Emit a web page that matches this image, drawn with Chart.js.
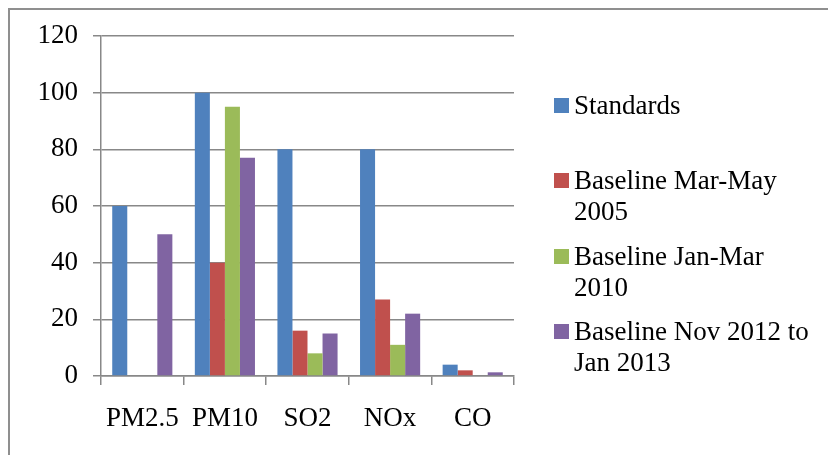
<!DOCTYPE html>
<html>
<head>
<meta charset="utf-8">
<script src="https://cdn.jsdelivr.net/npm/chart.js@4/dist/chart.umd.min.js"></script>
<style>
  html, body { margin: 0; padding: 0; background: #fff; }
  #wrap { position: relative; width: 828px; height: 455px; overflow: hidden; background: #fff; }
  #frame { position: absolute; left: 8px; top: 8px; width: 900px; height: 520px;
           border-left: 2px solid #8f8f8f; border-top: 2px solid #8f8f8f; box-sizing: border-box; }
  #c { position: absolute; left: 0; top: 0; }
  #legend { position: absolute; left: 554px; top: 90px; width: 274px;
            font-family: "Liberation Serif", "Times New Roman", serif; font-size: 27px;
            line-height: 31px; color: #000; }
  .item { position: relative; height: 75.3px; }
  .swatch { position: absolute; left: 0; top: 8px; width: 15px; height: 15px; }
  .text { position: absolute; left: 20px; top: 0; width: 250px; }
</style>
</head>
<body>
<div id="wrap">
  <div id="frame"></div>
  <canvas id="c" width="828" height="455"></canvas>
  <div id="legend"></div>
</div>
<script>
// Pollutants on the category axis
const pollutants = ['PM2.5', 'PM10', 'SO2', 'NOx', 'CO'];

// Concentration per pollutant for each series
const standards      = [60, 100, 80, 80, 4];
const baseline2005   = [null, 40, 16, 27, 2];
const baseline2010   = [null, 95, 8, 11, null];
const baseline2012   = [50, 77, 15, 22, 1.3];

const seriesNames = [
  'Standards',
  'Baseline Mar-May 2005',
  'Baseline Jan-Mar 2010',
  'Baseline Nov 2012 to Jan 2013'
];
const seriesColors = ['#4F81BD', '#C0504D', '#9BBB59', '#8064A2'];

// Value axis range
const yMin = 0, yMax = 120, yStep = 20;

const seriesValues = [standards, baseline2005, baseline2010, baseline2012];
const gridColor = '#888888';
const serif = '"Liberation Serif", "Times New Roman", serif';

new Chart(document.getElementById('c'), {
  type: 'bar',
  data: {
    labels: pollutants,
    datasets: seriesNames.map((name, i) => ({
      label: name,
      data: seriesValues[i],
      backgroundColor: seriesColors[i],
      borderWidth: 0,
      categoryPercentage: 0.728,
      barPercentage: 1.0
    }))
  },
  options: {
    responsive: false,
    animation: false,
    devicePixelRatio: 1,
    layout: { padding: { left: 0, top: 36, right: 314, bottom: 0 } },
    plugins: {
      legend: { display: false },
      tooltip: { enabled: false }
    },
    scales: {
      x: {
        grid: {
          offset: true,
          drawOnChartArea: false,
          drawTicks: true,
          tickLength: 9,
          color: gridColor,
          lineWidth: 1.5
        },
        border: { color: gridColor, width: 1.5 },
        ticks: {
          color: '#000',
          font: { family: serif, size: 27 },
          padding: 18,
          maxRotation: 0,
          autoSkip: false
        },
        afterFit: s => { s.height = 79; }
      },
      y: {
        min: yMin,
        max: yMax,
        ticks: {
          stepSize: yStep,
          color: '#000',
          font: { family: serif, size: 27 },
          padding: 15
        },
        grid: {
          color: gridColor,
          lineWidth: 1.5,
          tickLength: 8
        },
        border: { color: gridColor, width: 1.5 },
        afterFit: s => { s.width = 101; }
      }
    }
  }
});

// Legend built from the series names and colours
const legend = document.getElementById('legend');
seriesNames.forEach((name, i) => {
  const item = document.createElement('div');
  item.className = 'item';
  const sw = document.createElement('div');
  sw.className = 'swatch';
  sw.style.background = seriesColors[i];
  const tx = document.createElement('div');
  tx.className = 'text';
  tx.textContent = name;
  item.appendChild(sw);
  item.appendChild(tx);
  legend.appendChild(item);
});
</script>
</body>
</html>
